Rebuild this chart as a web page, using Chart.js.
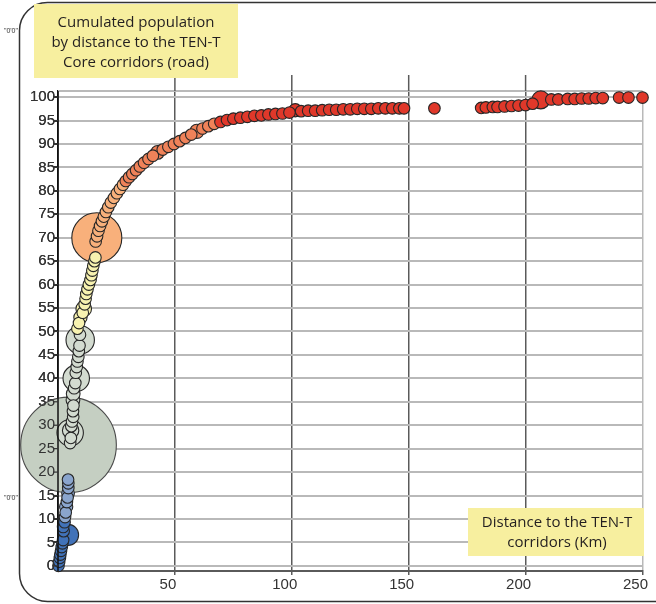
<!DOCTYPE html>
<html>
<head>
<meta charset="UTF-8">
<title>Cumulated population by distance to the TEN-T Core corridors</title>
<script src="https://cdn.jsdelivr.net/npm/chart.js@4.4.1/dist/chart.umd.min.js"></script>
<style>
body { margin: 0; background: #fff; }
#wrap { width: 656px; height: 604px; }
</style>
</head>
<body>
<div id="wrap"><canvas id="myChart"></canvas></div>
<script>
// distance to the corridor (km), cumulated population (%), relative size of the region
var distKm = [
  0.2, 0.5, 0.8, 1.0, 1.3, 1.6, 1.9, 2.2, 4.3, 2.4, 2.2, 2.8, 3.0, 3.3, 3.5, 3.8, 4.1, 4.3, 4.4, 4.4, 4.3,
  4.5, 5.2, 5.5, 5.2, 5.4, 5.7, 6.0, 6.5, 6.4, 6.6, 6.4, 6.5, 6.9, 7.4, 7.8, 7.6, 8.0, 8.3, 8.7, 8.9, 9.2, 9.5, 9.4,
  8.3, 9.0, 9.6, 10.6, 11.0, 11.4, 11.8, 12.1, 12.6, 13.2, 13.9, 14.3, 14.7, 15.1, 15.6, 16.0,
  16.6, 16.1, 16.7, 17.3, 18.0, 18.8, 19.6, 20.5, 21.5, 22.6, 23.9, 25.2, 26.5, 27.8, 29.0, 30.4, 31.8, 33.4, 35.0,
  36.8, 38.7, 40.6, 42.6, 44.8, 47.2, 49.6, 52.0, 54.5, 57.0, 59.4, 61.8, 64.3, 66.8, 69.5, 72.3,
  75, 78, 81, 84, 87, 90, 93, 96, 99, 101.5, 104, 107, 110, 113, 116, 119, 122, 125, 128, 131, 134, 137, 140, 143,
  146, 148, 161, 181, 183, 186, 188, 191, 194, 197, 200, 203, 206.5, 211, 214, 218, 221, 224, 227, 230, 233, 240, 244, 250
];
var cumPop = [
  0, 0.9, 1.7, 2.4, 3.2, 4.0, 4.8, 5.5, 6.6, 7.4, 8.3, 9.3, 10.4, 11.4, 12.6, 13.6, 14.6, 15.5, 16.6, 17.6, 18.4,
  25.8, 26.2, 27.3, 28.4, 28.9, 29.8, 30.8, 31.8, 33.0, 34.2, 35.4, 36.7, 37.9, 39.0, 40.0, 41.2, 42.4, 43.6, 44.6, 45.8, 47.0, 48.2, 49.3,
  50.6, 51.8, 53.0, 54.0, 54.8, 55.8, 57.0, 58.0, 59.0, 60.0, 61.0, 62.0, 63.0, 64.0, 65.0, 65.8,
  70.0, 69.2, 70.3, 71.5, 72.5, 73.5, 74.5, 75.5, 76.5, 77.5, 78.5, 79.5, 80.4, 81.3, 82.1, 82.9, 83.6, 84.4, 85.2,
  86.0, 86.8, 87.5, 88.2, 88.8, 89.4, 90.0, 90.6, 91.3, 92.0, 92.7, 93.3, 93.8, 94.3, 94.7, 95.1,
  95.4, 95.6, 95.8, 96.0, 96.1, 96.3, 96.4, 96.5, 96.7, 97.2, 97.0, 97.1, 97.1, 97.2, 97.3, 97.3, 97.4, 97.4, 97.5, 97.5, 97.5, 97.6, 97.6, 97.6,
  97.6, 97.6, 97.6, 97.7, 97.8, 97.9, 97.9, 98.0, 98.1, 98.2, 98.3, 98.6, 99.4, 99.5, 99.5, 99.6, 99.6, 99.7, 99.7, 99.8, 99.8, 99.9, 99.9, 99.9
];
var popSize = [
  1, 1, 1, 1, 1, 1, 1, 1, 3.3, 1, 1, 1, 1, 1, 1.3, 1, 1, 1.2, 1, 1, 1,
  68, 1, 1, 5.2, 2, 1, 1, 1, 1, 1, 1.4, 1.4, 1, 1, 5.2, 1, 1, 1, 1, 1, 1, 6, 1,
  1, 1, 1.3, 1, 1.8, 1, 1, 1, 1, 1, 1, 1, 1, 1, 1, 1,
  18.6, 1, 1, 1, 1, 1, 1, 1, 1, 1, 1, 1, 1, 1, 1, 1, 1, 1, 1,
  1, 1, 1, 1.4, 1, 1, 1, 1, 1, 1, 1.5, 1, 1, 1, 1, 1,
  1, 1, 1, 1, 1, 1, 1, 1, 1, 1.3, 1, 1, 1, 1, 1, 1, 1, 1, 1, 1, 1, 1, 1, 1,
  1, 1, 1, 1, 1, 1, 1, 1, 1, 1, 1, 1, 2.4, 1, 1, 1, 1, 1, 1, 1, 1, 1, 1, 1
];
var yTicks = [0, 5, 10, 15, 20, 25, 30, 35, 40, 45, 50, 55, 60, 65, 70, 75, 80, 85, 90, 95, 100];
var xTicks = [50, 100, 150, 200, 250];
var titleLines = ['Cumulated population', 'by distance to the TEN-T', 'Core corridors (road)'];
var xTitleLines = ['Distance to the TEN-T', 'corridors (Km)'];

// colour bands by cumulated population
function bandColor(y, w) {
  if (y < 10) return '#4172b8';
  if (y < 20) return '#8aa5cd';
  if (y < 50) return w > 20 ? '#c5cfc2' : '#d3dbd0';
  if (y < 67) return '#f7f2b0';
  if (y < 82) return '#f8b07b';
  if (y < 94.5) return '#ef8259';
  return '#e0382a';
}

var points = [];
for (var i = 0; i < distKm.length; i++) {
  points.push({ x: distKm[i], y: cumPop[i], w: popSize[i], r: 5.8 * Math.sqrt(popSize[i]) });
}
points.sort(function(a, b) { return b.r - a.r; }); // large bubbles behind

var decor = {
  id: 'decor',
  beforeDraw: function(chart) {
    var c = chart.ctx;
    c.save();
    c.fillStyle = '#fff';
    c.fillRect(0, 0, chart.width, chart.height);
    c.strokeStyle = '#333';
    c.lineWidth = 1.5;
    c.beginPath();
    c.roundRect(19.5, 2.5, 720, 599, 28);
    c.stroke();
    c.fillStyle = '#333';
    c.font = '7px "Liberation Sans"';
    c.textAlign = 'right';
    c.textBaseline = 'middle';
    c.fillText('"0\'0"', 18, 31);
    c.fillText('"0\'0"', 18, 498);
    c.restore();
  },
  beforeDatasetsDraw: function(chart) {
    var c = chart.ctx, a = chart.chartArea, xs = chart.scales.x;
    c.save();
    // frame top
    c.strokeStyle = '#b9b9b9';
    c.lineWidth = 2;
    c.beginPath();
    c.moveTo(a.left, a.top);
    c.lineTo(a.right, a.top);
    c.stroke();
    // vertical lines run a bit above the frame
    c.strokeStyle = '#5a5a5a';
    c.lineWidth = 1.5;
    for (var k = 0; k < xTicks.length - 1; k++) {
      var px = xs.getPixelForValue(xTicks[k]);
      c.beginPath();
      c.moveTo(px, a.top);
      c.lineTo(px, a.top - 16);
      c.stroke();
    }
    c.restore();
  },
  afterDatasetsDraw: function(chart) {
    // y axis line, tick marks and labels stay on top of the big bubble
    var c = chart.ctx, a = chart.chartArea, ys = chart.scales.y;
    c.save();
    c.strokeStyle = '#111';
    c.lineWidth = 1.5;
    c.beginPath();
    c.moveTo(a.left, a.top);
    c.lineTo(a.left, a.bottom);
    c.stroke();
    c.strokeStyle = '#333';
    c.lineWidth = 1.2;
    yTicks.forEach(function(v) {
      var py = ys.getPixelForValue(v);
      c.beginPath();
      c.moveTo(a.left - 5, py);
      c.lineTo(a.left, py);
      c.stroke();
    });
    c.restore();
    ys.drawLabels(a);
  },
  afterDraw: function(chart) {
    var c = chart.ctx;
    c.save();
    c.fillStyle = '#f7ef9f';
    c.fillRect(34, 4, 204, 74);
    c.fillRect(468, 508, 176, 48);
    c.fillStyle = '#231f20';
    c.font = '15px "Open Sans"';
    c.textAlign = 'center';
    c.textBaseline = 'middle';
    titleLines.forEach(function(t, j) { c.fillText(t, 136, 23 + j * 20); });
    xTitleLines.forEach(function(t, j) { c.fillText(t, 557, 523 + j * 20); });
    c.restore();
  }
};

var ctx = document.getElementById('myChart').getContext('2d');
var myChart = new Chart(ctx, {
  type: 'bubble',
  data: {
    datasets: [{
      label: 'Cumulated population',
      data: points,
      backgroundColor: function(cx) { return cx.raw ? bandColor(cx.raw.y, cx.raw.w) : '#ccc'; },
      borderColor: function(cx) { return cx.raw && cx.raw.w > 20 ? '#4a4a4a' : '#262626'; },
      borderWidth: 1.1,
      clip: false
    }]
  },
  plugins: [decor],
  options: {
    responsive: true,
    maintainAspectRatio: false,
    animation: false,
    events: [],
    layout: { autoPadding: false, padding: { top: 91, right: 12, bottom: 0, left: 0 } },
    plugins: {
      legend: { display: false },
      tooltip: { enabled: false }
    },
    scales: {
      x: {
        type: 'linear',
        min: 0,
        max: 250,
        afterBuildTicks: function(s) { s.ticks = xTicks.map(function(v) { return { value: v }; }); },
        afterFit: function(s) { s.height = 33; },
        grid: {
          color: function(cx) { return cx.tick && cx.tick.value === 250 ? '#b9b9b9' : '#5a5a5a'; },
          lineWidth: 1.5,
          tickLength: 4,
          tickColor: '#5a5a5a'
        },
        border: { display: true, color: '#5a5a5a', width: 2 },
        ticks: {
          color: '#333',
          font: { family: 'Liberation Sans', size: 15 },
          padding: 1,
          labelOffset: -7,
          maxRotation: 0
        }
      },
      y: {
        type: 'linear',
        min: -1.1,
        max: 101.3,
        afterBuildTicks: function(s) { s.ticks = yTicks.map(function(v) { return { value: v }; }); },
        afterFit: function(s) { s.width = 58; },
        grid: {
          color: '#b9b9b9',
          lineWidth: 2,
          tickLength: 5,
          tickColor: '#333'
        },
        border: { display: true, color: '#111', width: 1.5 },
        ticks: {
          color: '#333',
          font: { family: 'Liberation Sans', size: 15 },
          padding: -2
        }
      }
    }
  }
});
</script>
</body>
</html>
